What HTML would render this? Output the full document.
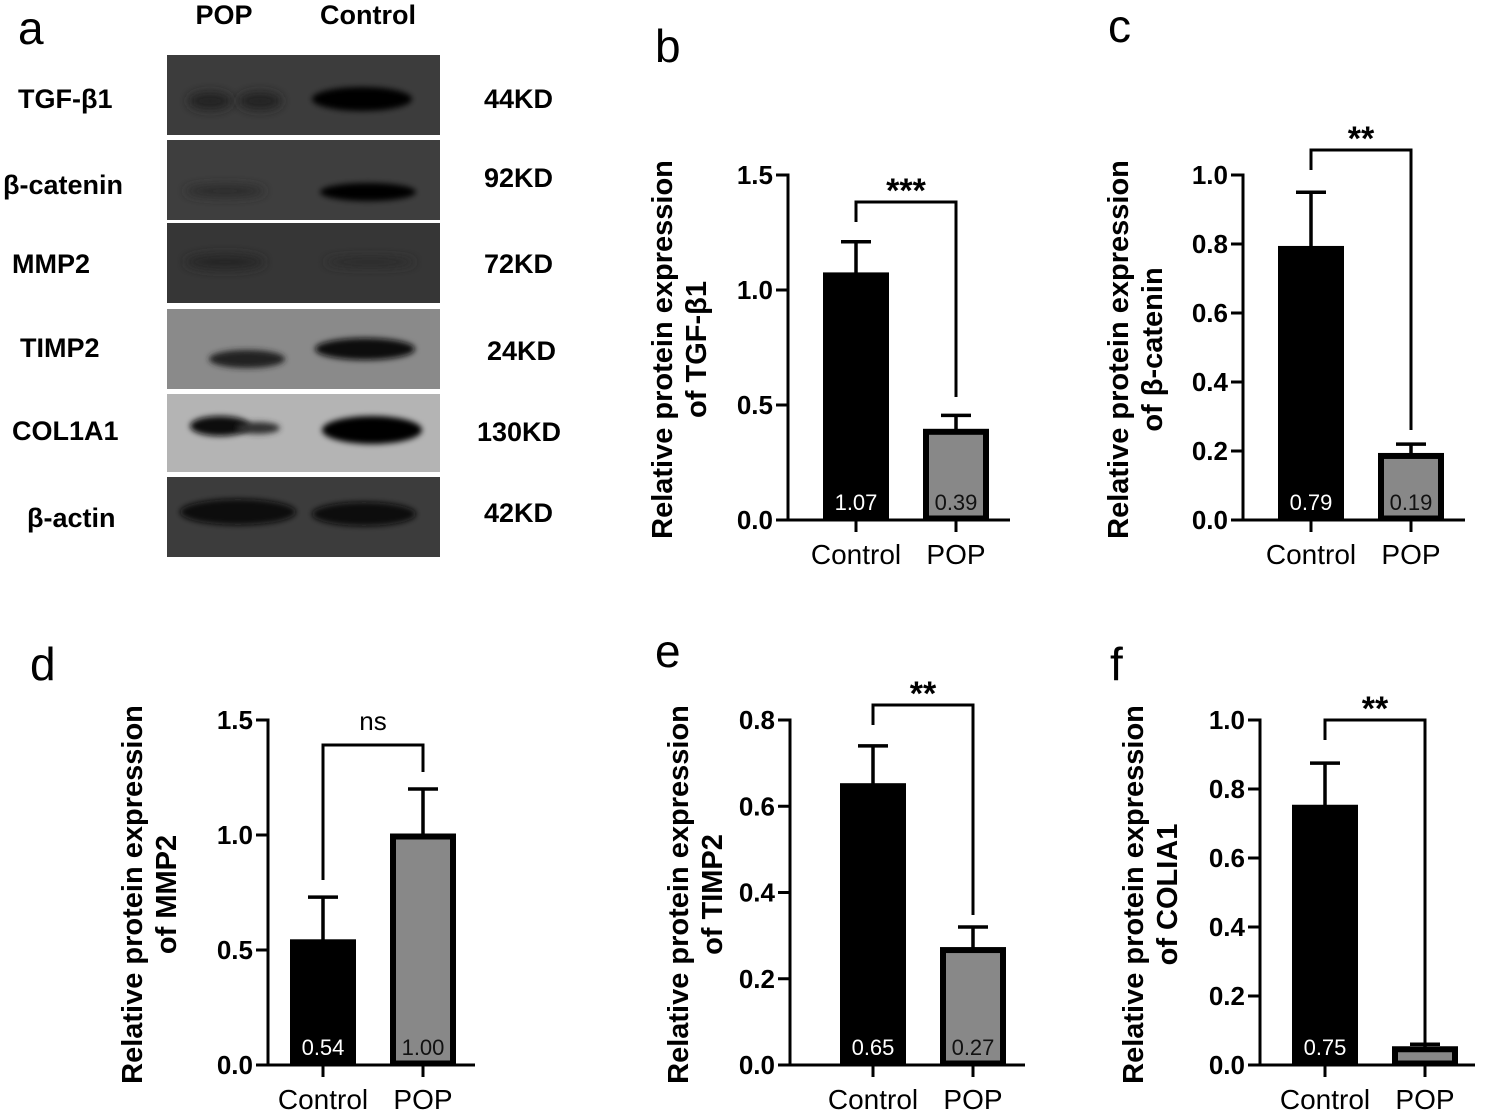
<!DOCTYPE html>
<html><head><meta charset="utf-8">
<style>
html,body{margin:0;padding:0;background:#fff;}
svg{display:block;font-family:"Liberation Sans",Arial,sans-serif;}
</style></head>
<body>
<svg id="fig" width="1500" height="1117" viewBox="0 0 1500 1117">
<defs>
<filter id="blur" x="-30%" y="-100%" width="160%" height="300%"><feGaussianBlur stdDeviation="5"/></filter>
<filter id="blur2" x="-30%" y="-100%" width="160%" height="300%"><feGaussianBlur stdDeviation="3"/></filter>
</defs>
<g>
<text x="18" y="44" font-size="46">a</text>
<text x="224" y="24" font-size="27" font-weight="bold" text-anchor="middle">POP</text>
<text x="368" y="24" font-size="27" font-weight="bold" text-anchor="middle">Control</text>
<rect x="167" y="55" width="273" height="80" fill="#3c3c3c"/>
<rect x="167" y="140" width="273" height="80" fill="#3e3e3e"/>
<rect x="167" y="223" width="273" height="80" fill="#363636"/>
<rect x="167" y="309" width="273" height="80" fill="#8a8a8a"/>
<rect x="167" y="394" width="273" height="78" fill="#b4b4b4"/>
<rect x="167" y="477" width="273" height="80" fill="#3c3c3c"/>
<g>
<ellipse cx="210" cy="101" rx="22" ry="9" fill="#222" filter="url(#blur)"/>
<ellipse cx="260" cy="101" rx="22" ry="9" fill="#222" filter="url(#blur)"/>
<ellipse cx="362" cy="99" rx="50" ry="12" fill="#050505" filter="url(#blur2)"/>
<ellipse cx="225" cy="191" rx="40" ry="6" fill="#2c2c2c" filter="url(#blur)"/>
<ellipse cx="368" cy="192" rx="48" ry="9" fill="#050505" filter="url(#blur2)"/>
<ellipse cx="225" cy="262" rx="40" ry="8" fill="#262626" filter="url(#blur)"/>
<ellipse cx="370" cy="262" rx="45" ry="5" fill="#2c2c2c" filter="url(#blur)"/>
<ellipse cx="247" cy="359" rx="38" ry="9" fill="#222" filter="url(#blur2)"/>
<ellipse cx="365" cy="349" rx="50" ry="11" fill="#0a0a0a" filter="url(#blur2)"/>
<ellipse cx="220" cy="426" rx="30" ry="10" fill="#080808" filter="url(#blur2)"/>
<ellipse cx="258" cy="428" rx="22" ry="6" fill="#333" filter="url(#blur2)"/>
<ellipse cx="372" cy="430" rx="50" ry="14" fill="#050505" filter="url(#blur2)"/>
<ellipse cx="238" cy="512" rx="58" ry="13" fill="#080808" filter="url(#blur2)"/>
<ellipse cx="364" cy="514" rx="52" ry="12" fill="#080808" filter="url(#blur2)"/>
</g>
<g font-size="27" font-weight="bold">
<text x="18" y="108">TGF-β1</text>
<text x="3" y="194">β-catenin</text>
<text x="12" y="273">MMP2</text>
<text x="20" y="357">TIMP2</text>
<text x="12" y="440">COL1A1</text>
<text x="27" y="527">β-actin</text>
</g>
<g font-size="27" font-weight="bold">
<text x="484" y="108">44KD</text>
<text x="484" y="187">92KD</text>
<text x="484" y="273">72KD</text>
<text x="487" y="360">24KD</text>
<text x="477" y="441">130KD</text>
<text x="484" y="522">42KD</text>
</g>
</g>
<g id="charts"></g>
</svg>
<script>
const categories = ["Control", "POP"];
const tgfMeans = [1.07, 0.39];
const tgfErr = [0.14, 0.065];
const catMeans = [0.79, 0.19];
const catErr = [0.16, 0.03];
const mmpMeans = [0.54, 1.00];
const mmpErr = [0.19, 0.20];
const timpMeans = [0.65, 0.27];
const timpErr = [0.09, 0.05];
const colMeans = [0.75, 0.05];
const colErr = [0.125, 0.01];
const tgfTicks = ["0.0", "0.5", "1.0", "1.5"];
const catTicks = ["0.0", "0.2", "0.4", "0.6", "0.8", "1.0"];
const mmpTicks = ["0.0", "0.5", "1.0", "1.5"];
const timpTicks = ["0.0", "0.2", "0.4", "0.6", "0.8"];
const colTicks = ["0.0", "0.2", "0.4", "0.6", "0.8", "1.0"];
const valueLabels = [["1.07","0.39"],["0.79","0.19"],["0.54","1.00"],["0.65","0.27"],["0.75","0.05"]];
const sigLabels = ["***","**","ns","**","**"];

const NS = "http://www.w3.org/2000/svg";
const root = document.getElementById("charts");
function el(tag, attrs, parent, txt){
  const e = document.createElementNS(NS, tag);
  for (const k in attrs) e.setAttribute(k, attrs[k]);
  if (txt !== undefined) e.textContent = txt;
  parent.appendChild(e);
  return e;
}
const panels = [
  {id:"b", ax:788, y0:520, ytop:175, max:1.5, ticks:tgfTicks, m:tgfMeans, e:tgfErr, xs:[823,923], xend:1010,
   lab:[672,706], gene:"TGF-β1", br:[202,222,397], sigY:192, letter:[655,62]},
  {id:"c", ax:1243, y0:520, ytop:175, max:1.0, ticks:catTicks, m:catMeans, e:catErr, xs:[1278,1378], xend:1465,
   lab:[1128,1162], gene:"β-catenin", br:[150,170,430], sigY:140, letter:[1108,42]},
  {id:"d", ax:268, y0:1065, ytop:720, max:1.5, ticks:mmpTicks, m:mmpMeans, e:mmpErr, xs:[290,390], xend:475,
   lab:[142,176], gene:"MMP2", br:[745,880,772], sigY:730, letter:[30,680]},
  {id:"e", ax:790, y0:1065, ytop:720, max:0.8, ticks:timpTicks, m:timpMeans, e:timpErr, xs:[840,940], xend:1025,
   lab:[688,722], gene:"TIMP2", br:[705,725,915], sigY:695, letter:[655,667]},
  {id:"f", ax:1260, y0:1065, ytop:720, max:1.0, ticks:colTicks, m:colMeans, e:colErr, xs:[1292,1392], xend:1475,
   lab:[1143,1177], gene:"COLIA1", br:[720,740,1045], sigY:710, letter:[1110,680]}
];
const BW = 66;
panels.forEach((p, pi) => {
  const g = el("g", {}, root);
  
  
  const y = v => p.y0 - v / p.max * (p.y0 - p.ytop);
  const lt = el("text", {x:p.letter[0], y:p.letter[1], "font-size":46}, g, p.id);
  
  
  const ya = el("line", {x1:p.ax, y1:p.ytop - 1.5, x2:p.ax, y2:p.y0 + 1.5, stroke:"#000", "stroke-width":3}, g);
  
  
  p.ticks.forEach(t => {
    const ty = y(parseFloat(t));
    el("line", {x1:p.ax - 12, y1:ty, x2:p.ax, y2:ty, stroke:"#000", "stroke-width":3}, g);
    const tl = el("text", {x:p.ax - 15, y:ty + 9, "font-size":26, "font-weight":"bold", "text-anchor":"end"}, g, t);
    
    
  });
  const xa = el("line", {x1:p.ax - 12, y1:p.y0, x2:p.xend, y2:p.y0, stroke:"#000", "stroke-width":3}, g);
  
  
  const yt = el("text", {transform:`translate(${p.lab[0]},${(p.ytop + p.y0)/2 + 2}) rotate(-90)`, "font-size":29, "font-weight":"bold", "text-anchor":"middle"}, g);
  
  
  el("tspan", {x:0, dy:0}, yt, "Relative protein expression");
  el("tspan", {x:0, dy:p.lab[1] - p.lab[0]}, yt, "of " + p.gene);
  categories.forEach((c, i) => {
    const x = p.xs[i], top = y(p.m[i]);
    const cx = x + BW / 2;
    const eTop = y(p.m[i] + p.e[i]);
    const eb = el("line", {x1:cx, y1:eTop, x2:cx, y2:top, stroke:"#000", "stroke-width":3.5}, g);
    
    
    el("line", {x1:cx - 15, y1:eTop, x2:cx + 15, y2:eTop, stroke:"#000", "stroke-width":3.5}, g);
    const r = el("rect", {x:x + 3, y:top + 1.5, width:BW - 6, height:Math.max(0, p.y0 - top - 3), fill: i === 0 ? "#000" : "#888", stroke:"#000", "stroke-width":6}, g);
    
    
    if (p.id !== "f" || i === 0) {
      const vl = el("text", {x:cx, y:p.y0 - 10, "font-size":22, "text-anchor":"middle", fill: i === 0 ? "#fff" : "#111"}, g, valueLabels[pi][i]);
      
      
    }
    el("line", {x1:cx, y1:p.y0, x2:cx, y2:p.y0 + 12, stroke:"#000", "stroke-width":3}, g);
    const xl = el("text", {x:cx, y:p.y0 + 44, "font-size":28, "text-anchor":"middle"}, g, c);
    
    
  });
  const c0 = p.xs[0] + BW / 2, c1 = p.xs[1] + BW / 2;
  const bk = el("path", {d:`M${c0},${p.br[1]} V${p.br[0]} H${c1} V${p.br[2]}`, fill:"none", stroke:"#000", "stroke-width":3}, g);
  
  
  const ns = sigLabels[pi] === "ns";
  const st = el("text", {x:(c0 + c1) / 2, y: ns ? p.sigY : p.sigY + 10, "font-size": ns ? 26 : 34, "font-weight": ns ? "normal" : "bold", "text-anchor":"middle"}, g, sigLabels[pi]);
  
  
});
</script>
</body></html>
